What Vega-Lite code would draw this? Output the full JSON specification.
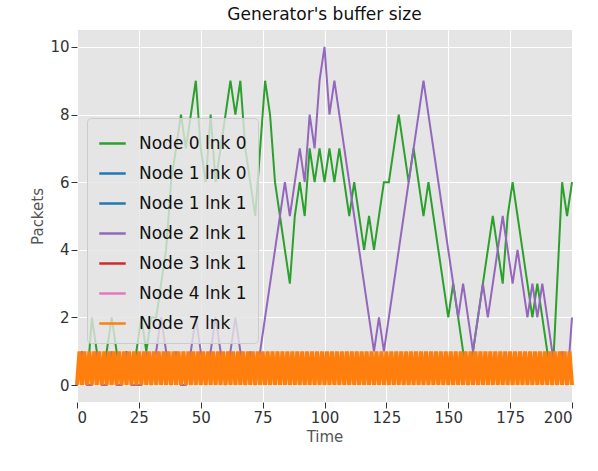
{
"$schema":"https://vega.github.io/schema/vega-lite/v6.json",
"width":495,"height":372,
"padding":{"left":30,"top":6,"right":10,"bottom":5},
"background":"white",
"title":{"text":"Generator's buffer size","fontSize":17,"fontWeight":"normal","font":"DejaVu Sans","color":"#111","offset":6},
"config":{"view":{"fill":"#e5e5e5","stroke":null},
"axis":{"gridColor":"white","gridWidth":1,"domain":false,"tickColor":"#333","tickSize":6,"labelFont":"DejaVu Sans","labelFontSize":15,"labelColor":"#333","titleFont":"DejaVu Sans","titleFontSize":15,"titleColor":"#555","titleFontWeight":"normal"}},
"datasets":{
"g":[[0,0],[2,1],[4,0],[6,2],[8,1],[10,0],[12,1],[14,2],[16,1],[18,0],[20,1],[22,0],[24,1],[26,2],[28,1],[30,2],[32,2],[34,3],[36,4],[38,6],[40,7],[42,8],[44,7],[46,8],[48,9],[50,7],[52,6],[54,8],[56,6],[58,7],[60,8],[62,9],[64,8],[66,9],[68,7],[70,6],[72,5],[74,7],[76,9],[78,8],[80,6],[82,5],[84,4],[86,3],[88,5],[90,6],[92,5],[94,7],[96,6],[98,7],[100,6],[102,7],[104,6],[106,7],[108,6],[110,5],[112,6],[114,5],[116,4],[118,5],[120,4],[122,5],[124,6],[126,6],[128,7],[130,8],[132,7],[134,6],[136,7],[138,6],[140,5],[142,6],[144,5],[146,4],[148,3],[150,2],[152,3],[154,2],[156,1],[158,0],[160,1],[162,2],[164,3],[166,4],[168,5],[170,4],[172,3],[174,5],[176,6],[178,5],[180,4],[182,3],[184,2],[186,3],[188,2],[190,1],[192,0],[194,3],[196,6],[198,5],[200,6]],
"p":[[0,0],[2,1],[4,0],[6,0],[8,1],[10,0],[12,0],[14,1],[16,0],[18,0],[20,1],[22,0],[24,0],[26,0],[28,1],[30,0],[32,1],[34,2],[36,1],[38,0],[40,1],[42,0],[44,0],[46,1],[48,2],[50,1],[52,0],[54,1],[56,2],[58,1],[60,0],[62,1],[64,2],[66,1],[68,0],[70,1],[72,0],[74,1],[76,2],[78,3],[80,4],[82,5],[84,6],[86,5],[88,6],[90,7],[92,6],[94,8],[96,7],[98,9],[100,10],[102,8],[104,9],[106,8],[108,7],[110,6],[112,5],[114,4],[116,3],[118,2],[120,1],[122,2],[124,1],[126,2],[128,3],[130,4],[132,5],[134,6],[136,7],[138,8],[140,9],[142,8],[144,7],[146,6],[148,5],[150,4],[152,3],[154,2],[156,3],[158,2],[160,1],[162,2],[164,3],[166,2],[168,3],[170,4],[172,5],[174,4],[176,3],[178,4],[180,3],[182,2],[184,3],[186,2],[188,3],[190,2],[192,1],[194,0],[196,1],[198,0],[200,2]],
"o":[[0,0],[1,1],[2,0],[3,1],[4,0],[5,1],[6,0],[7,1],[8,0],[9,1],[10,0],[11,1],[12,0],[13,1],[14,0],[15,1],[16,0],[17,1],[18,0],[19,1],[20,0],[21,1],[22,0],[23,1],[24,0],[25,1],[26,0],[27,1],[28,0],[29,1],[30,0],[31,1],[32,0],[33,1],[34,0],[35,1],[36,0],[37,1],[38,0],[39,1],[40,0],[41,1],[42,0],[43,1],[44,0],[45,1],[46,0],[47,1],[48,0],[49,1],[50,0],[51,1],[52,0],[53,1],[54,0],[55,1],[56,0],[57,1],[58,0],[59,1],[60,0],[61,1],[62,0],[63,1],[64,0],[65,1],[66,0],[67,1],[68,0],[69,1],[70,0],[71,1],[72,0],[73,1],[74,0],[75,1],[76,0],[77,1],[78,0],[79,1],[80,0],[81,1],[82,0],[83,1],[84,0],[85,1],[86,0],[87,1],[88,0],[89,1],[90,0],[91,1],[92,0],[93,1],[94,0],[95,1],[96,0],[97,1],[98,0],[99,1],[100,0],[101,1],[102,0],[103,1],[104,0],[105,1],[106,0],[107,1],[108,0],[109,1],[110,0],[111,1],[112,0],[113,1],[114,0],[115,1],[116,0],[117,1],[118,0],[119,1],[120,0],[121,1],[122,0],[123,1],[124,0],[125,1],[126,0],[127,1],[128,0],[129,1],[130,0],[131,1],[132,0],[133,1],[134,0],[135,1],[136,0],[137,1],[138,0],[139,1],[140,0],[141,1],[142,0],[143,1],[144,0],[145,1],[146,0],[147,1],[148,0],[149,1],[150,0],[151,1],[152,0],[153,1],[154,0],[155,1],[156,0],[157,1],[158,0],[159,1],[160,0],[161,1],[162,0],[163,1],[164,0],[165,1],[166,0],[167,1],[168,0],[169,1],[170,0],[171,1],[172,0],[173,1],[174,0],[175,1],[176,0],[177,1],[178,0],[179,1],[180,0],[181,1],[182,0],[183,1],[184,0],[185,1],[186,0],[187,1],[188,0],[189,1],[190,0],[191,1],[192,0],[193,1],[194,0],[195,1],[196,0],[197,1],[198,0],[199,1],[200,0]],
"h":[{"s":"Node 1 lnk 0","x":0,"y":0.5},{"s":"Node 1 lnk 0","x":200,"y":0.5},{"s":"Node 1 lnk 1","x":0,"y":0.5},{"s":"Node 1 lnk 1","x":200,"y":0.5},{"s":"Node 3 lnk 1","x":0,"y":0.5},{"s":"Node 3 lnk 1","x":200,"y":0.5},{"s":"Node 4 lnk 1","x":0,"y":0.5},{"s":"Node 4 lnk 1","x":200,"y":0.5}]
},
"layer":[
{"data":{"name":"h"},"mark":{"type":"line","strokeWidth":2},
 "encoding":{"x":{"field":"x","type":"quantitative","scale":{"domain":[0,200],"nice":false},"axis":{"values":[0,25,50,75,100,125,150,175,200],"title":"Time"}},
 "y":{"field":"y","type":"quantitative","scale":{"domain":[-0.5,10.5],"nice":false,"zero":false},"axis":{"values":[0,2,4,6,8,10],"title":"Packets"}},
 "color":{"field":"s","type":"nominal","scale":{"domain":["Node 0 lnk 0","Node 1 lnk 0","Node 1 lnk 1","Node 2 lnk 1","Node 3 lnk 1","Node 4 lnk 1","Node 7 lnk"],"range":["#2ca02c","#1f77b4","#1f77b4","#9467bd","#d62728","#e377c2","#ff7f0e"]},
  "legend":{"title":null,"orient":"none","legendX":10,"legendY":88,"symbolType":"stroke","symbolStrokeWidth":2.5,"symbolSize":700,"labelFont":"DejaVu Sans","labelFontSize":17,"labelColor":"#111","labelOffset":12,"rowPadding":7,"padding":11,"fillColor":"rgba(229,229,229,0.8)","strokeColor":"#ccc","cornerRadius":4}}}},
{"data":{"name":"g"},"transform":[{"calculate":"datum[0]","as":"x"},{"calculate":"datum[1]","as":"y"}],"mark":{"type":"line","strokeWidth":2,"color":"#2ca02c"},"encoding":{"x":{"field":"x","type":"quantitative"},"y":{"field":"y","type":"quantitative"}}},
{"data":{"name":"p"},"transform":[{"calculate":"datum[0]","as":"x"},{"calculate":"datum[1]","as":"y"}],"mark":{"type":"line","strokeWidth":2,"color":"#9467bd"},"encoding":{"x":{"field":"x","type":"quantitative"},"y":{"field":"y","type":"quantitative"}}},
{"data":{"name":"o"},"transform":[{"calculate":"datum[0]","as":"x"},{"calculate":"datum[1]","as":"y"}],"mark":{"type":"line","strokeWidth":4,"color":"#ff7f0e"},"encoding":{"x":{"field":"x","type":"quantitative"},"y":{"field":"y","type":"quantitative"}}}
]
}
